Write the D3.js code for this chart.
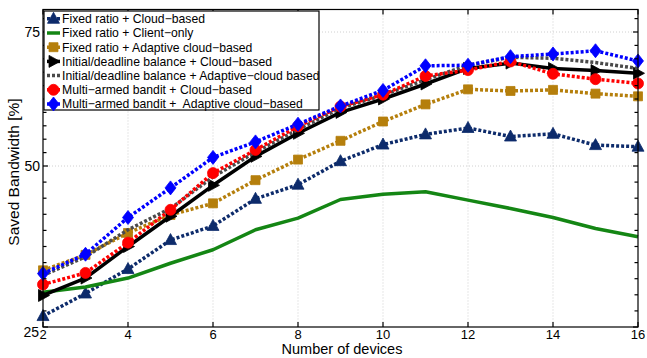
<!DOCTYPE html>
<html>
<head>
<meta charset="utf-8">
<script src="https://cdn.jsdelivr.net/npm/d3@7/dist/d3.min.js"></script>
<style>
  body { margin: 0; background: #fff; }
  svg { display: block; font-family: "Liberation Sans", Arial, Helvetica, sans-serif; }
</style>
</head>
<body>
<svg id="chart" width="647" height="358"></svg>
<script>
// number of devices
const devices = [2, 3, 4, 5, 6, 7, 8, 9, 10, 11, 12, 13, 14, 15, 16];

// saved bandwidth [%]
const fixedCloud    = [26.7, 30.2, 34.0, 38.5, 40.7, 44.9, 47.1, 50.9, 54.0, 55.9, 57.1, 55.5, 56.0, 53.9, 53.6];
const clientOnly    = [30.4, 31.2, 32.6, 34.9, 37.0, 40.1, 41.9, 44.8, 45.6, 46.0, 44.7, 43.4, 42.0, 40.3, 39.0];
const fixedAdaptive = [33.8, 36.2, 39.6, 42.4, 44.2, 47.8, 51.2, 54.7, 58.3, 61.5, 64.3, 64.0, 64.2, 63.5, 63.0];
const initCloud     = [29.9, 32.6, 37.5, 42.2, 47.0, 51.8, 56.1, 60.0, 62.5, 65.3, 68.2, 69.2, 68.2, 67.8, 67.3];
const initAdaptive  = [33.0, 35.9, 40.1, 43.4, 48.3, 52.6, 56.8, 60.8, 63.2, 66.1, 68.8, 70.3, 70.1, 69.3, 68.2];
const mabCloud      = [31.6, 33.4, 38.1, 43.2, 48.9, 53.0, 57.4, 61.1, 63.3, 66.8, 67.9, 69.5, 67.2, 66.2, 65.4];
const mabAdaptive   = [33.3, 36.3, 42.0, 46.6, 51.6, 54.5, 57.8, 61.2, 64.1, 68.7, 68.8, 70.4, 70.9, 71.5, 69.6];

const seriesNames = [
  'Fixed ratio + Cloud\u2212based',
  'Fixed ratio + Client\u2212only',
  'Fixed ratio + Adaptive cloud\u2212based',
  'Initial/deadline balance + Cloud\u2212based',
  'Initial/deadline balance + Adaptive\u2212cloud based',
  'Multi\u2212armed bandit + Cloud\u2212based',
  'Multi\u2212armed bandit +  Adaptive cloud\u2212based'
];

const xTicks = [2, 4, 6, 8, 10, 12, 14, 16];
const yTicks = [25, 50, 75];

// styles per series
const styles = [
  { values: fixedCloud,    color: '#0d2b6b', dash: '3,2', marker: 'triangle' },
  { values: clientOnly,    color: '#148614', dash: null,  marker: null },
  { values: fixedAdaptive, color: '#b57f0c', dash: '3,2', marker: 'square' },
  { values: initCloud,     color: '#000000', dash: null,  marker: 'arrow' },
  { values: initAdaptive,  color: '#4a4a4a', dash: '3,2', marker: null },
  { values: mabCloud,      color: '#ff0000', dash: '3,2', marker: 'circle' },
  { values: mabAdaptive,   color: '#0000ff', dash: '3,2', marker: 'diamond' }
];

const svg = d3.select('#chart');
const left = 43, right = 638, bottom = 327;

const x = d3.scaleLinear().domain([2, 16]).range([left, right]);
// the axis of the figure is not uniform: the 25-50 half is taller than the 50-75 half
const y = d3.scaleLinear().domain([25, 50, 75]).range([bottom, 166, 32]);
const yMax = 79.2;
const plotTop = y(yMax);

// grid
const grid = svg.append('g').attr('stroke', '#c4c4c4').attr('stroke-width', 0.8).attr('stroke-dasharray', '1,2');
grid.selectAll('line.v').data(xTicks.slice(1, -1)).enter().append('line')
  .attr('x1', d => x(d)).attr('x2', d => x(d)).attr('y1', plotTop).attr('y2', bottom);
grid.selectAll('line.h').data([50, 75]).enter().append('line')
  .attr('x1', left).attr('x2', right).attr('y1', d => y(d)).attr('y2', d => y(d));

// series
const line = d3.line().x((d, i) => x(devices[i])).y(d => y(d));
const plot = svg.append('g');

function markerPath(kind) {
  if (kind === 'triangle') return 'M0,-6.5L6,4.5L-6,4.5Z';
  if (kind === 'square') return 'M-4.5,-4.5H4.5V4.5H-4.5Z';
  if (kind === 'arrow') return 'M6.5,0L-4.5,-6L-4.5,6Z';
  if (kind === 'diamond') return 'M0,-7L5.5,0L0,7L-5.5,0Z';
  if (kind === 'circle') return d3.symbol(d3.symbolCircle, 95)();
  return null;
}

styles.forEach(s => {
  plot.append('path')
    .datum(s.values)
    .attr('d', line)
    .attr('fill', 'none')
    .attr('stroke', s.color)
    .attr('stroke-width', 3.5)
    .attr('stroke-dasharray', s.dash)
    .attr('stroke-linejoin', 'round');
  if (s.marker) {
    plot.append('g').selectAll('path').data(s.values).enter().append('path')
      .attr('transform', (d, i) => `translate(${x(devices[i])},${y(d)})`)
      .attr('d', markerPath(s.marker))
      .attr('fill', s.color)
      .attr('stroke', s.color)
      .attr('stroke-width', 0.8);
  }
});

// axes box
const axes = svg.append('g').attr('stroke', '#000').attr('stroke-width', 1.2);
axes.append('rect').attr('x', left).attr('y', plotTop).attr('width', right - left).attr('height', bottom - plotTop)
  .attr('fill', 'none');
// x ticks (inward, bottom and top)
xTicks.forEach(t => {
  axes.append('line').attr('x1', x(t)).attr('x2', x(t)).attr('y1', bottom).attr('y2', bottom - 5);
  axes.append('line').attr('x1', x(t)).attr('x2', x(t)).attr('y1', plotTop).attr('y2', plotTop + 5);
});
// y ticks, minor every 2.5
d3.range(25, 77.6, 2.5).forEach(t => {
  const len = (t % 25 === 0) ? 5 : 3.5;
  axes.append('line').attr('x1', left).attr('x2', left + len).attr('y1', y(t)).attr('y2', y(t));
  axes.append('line').attr('x1', right).attr('x2', right - len).attr('y1', y(t)).attr('y2', y(t));
});

// tick labels
svg.append('g').selectAll('text').data(xTicks).enter().append('text')
  .attr('x', d => x(d)).attr('y', 338.5)
  .attr('text-anchor', 'middle').attr('font-size', 13).text(d => d);
svg.append('g').selectAll('text').data(yTicks).enter().append('text')
  .attr('x', d => d === 25 ? 39 : 40).attr('y', d => y(d) + (d === 25 ? 10 : 5))
  .attr('text-anchor', 'end').attr('font-size', 14).text(d => d);

// axis titles
svg.append('text').attr('x', 342).attr('y', 354).attr('text-anchor', 'middle')
  .attr('font-size', 14.5).text('Number of devices');
svg.append('text').attr('transform', 'translate(19,172) rotate(-90)').attr('text-anchor', 'middle')
  .attr('font-size', 15.5).text('Saved Bandwidth [%]');

// legend
const lg = svg.append('g');
lg.append('rect').attr('x', 44).attr('y', 11).attr('width', 275).attr('height', 99)
  .attr('fill', '#fff').attr('stroke', '#000').attr('stroke-width', 1.2);
styles.forEach((s, i) => {
  const cy = 18.8 + i * 14.2;
  lg.append('line').attr('x1', 47).attr('x2', 60).attr('y1', cy).attr('y2', cy)
    .attr('stroke', s.color).attr('stroke-width', 3.5).attr('stroke-dasharray', s.dash);
  if (s.marker) {
    lg.append('path').attr('transform', `translate(53.5,${cy})`).attr('d', markerPath(s.marker))
      .attr('fill', s.color).attr('stroke', s.color).attr('stroke-width', 0.8);
  }
  lg.append('text').attr('x', 62).attr('y', cy + 4.3).attr('font-size', 12.2)
    .style('white-space', 'pre').text(seriesNames[i]);
});
</script>
</body>
</html>
